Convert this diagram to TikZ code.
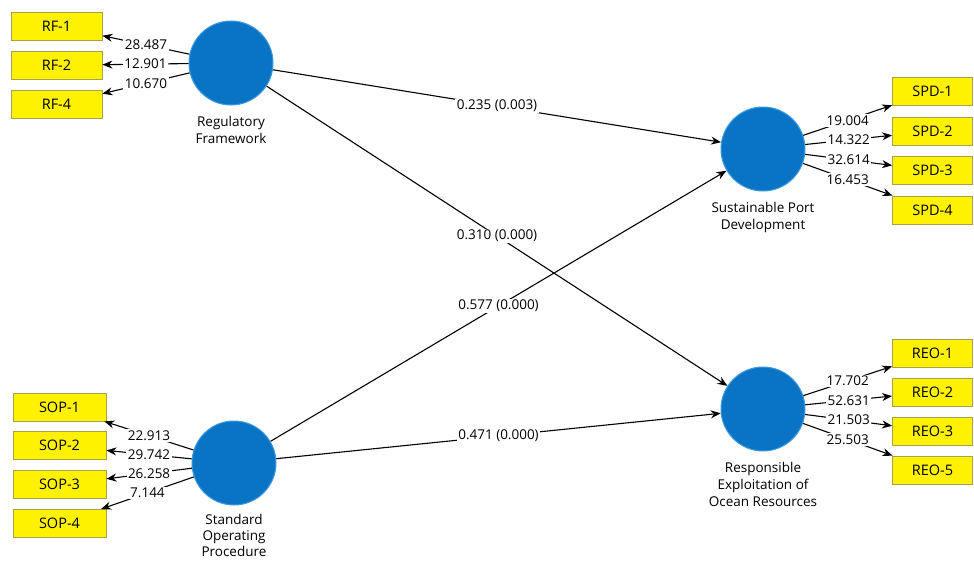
\documentclass[tikz,border=0pt]{standalone}
\usepackage{fontspec}
\setmainfont{Open Sans}
\usetikzlibrary{arrows.meta, positioning, shapes.geometric}

\definecolor{lvblue}{HTML}{0A74C4}
\definecolor{lvedge}{HTML}{3C9BE0}
\definecolor{mvyellow}{HTML}{FFF200}
\definecolor{mvedge}{HTML}{A9A146}

\begin{document}
\begin{tikzpicture}[
        x=1pt, y=-1pt,
        latent/.style={circle, fill=lvblue, draw=lvedge, line width=1pt, minimum size=84pt, inner sep=0pt},
        indicator/.style={rectangle, fill=mvyellow, draw=mvedge, line width=0.8pt, minimum width=91pt, minimum height=28pt, inner sep=0pt, font=\fontsize{14.5}{16}\selectfont},
        caption/.style={align=center, inner sep=1pt, font=\fontsize{13.5}{17}\selectfont},
        weight/.style={fill=white, inner sep=1.5pt, font=\fontsize{13.5}{14}\selectfont},
        line width=1.1pt,
        >={Stealth[length=10pt, width=8pt]}
      ]

      \useasboundingbox (0,0) rectangle (974,562);

      % Latent variables
      \node[latent] (rf) at (231,63) {};
      \node[latent] (sop) at (234,463) {};
      \node[latent] (spd) at (763,149) {};
      \node[latent] (reo) at (763,409) {};

      \node[caption, below=9.5pt of rf] (rf_name) {Regulatory\\Framework};
      \node[caption, below=7pt of sop, font=\fontsize{13.5}{16}\selectfont] (sop_name) {Standard\\Operating\\Procedure};
      \node[caption, below=9.5pt of spd] (spd_name) {Sustainable Port\\Development};
      \node[caption, below=9.5pt of reo] (reo_name) {Responsible\\Exploitation of\\Ocean Resources};

      % Regulatory Framework indicators
      \node[indicator] (rf1) at (56.5,26) {RF-1};
      \node[indicator, below=10.5pt of rf1] (rf2) {RF-2};
      \node[indicator, below=10.5pt of rf2] (rf4) {RF-4};

      % Standard Operating Procedure indicators
      \node[indicator, minimum width=93pt] (sop1) at (59.5,407) {SOP-1};
      \node[indicator, minimum width=93pt, below=10pt of sop1] (sop2) {SOP-2};
      \node[indicator, minimum width=93pt, below=10pt of sop2] (sop3) {SOP-3};
      \node[indicator, minimum width=93pt, below=10pt of sop3] (sop4) {SOP-4};

      % Sustainable Port Development indicators
      \node[indicator, minimum width=80pt] (spd1) at (932.5,91.5) {SPD-1};
      \node[indicator, minimum width=80pt, below=10.7pt of spd1] (spd2) {SPD-2};
      \node[indicator, minimum width=80pt, below=10.7pt of spd2] (spd3) {SPD-3};
      \node[indicator, minimum width=80pt, below=10.7pt of spd3] (spd4) {SPD-4};

      % Responsible Exploitation indicators
      \node[indicator, minimum width=80pt] (reo1) at (932.5,353) {REO-1};
      \node[indicator, minimum width=80pt, below=10.2pt of reo1] (reo2) {REO-2};
      \node[indicator, minimum width=80pt, below=10.2pt of reo2] (reo3) {REO-3};
      \node[indicator, minimum width=80pt, below=10.2pt of reo3] (reo5) {REO-5};

      % Outer loadings
      \draw[->] (rf) -- node[weight] {28.487} (rf1);
      \draw[->] (rf) -- node[weight] {12.901} (rf2);
      \draw[->] (rf) -- node[weight] {10.670} (rf4);
      \draw[->] (sop) -- node[weight] {22.913} (sop1);
      \draw[->] (sop) -- node[weight] {29.742} (sop2);
      \draw[->] (sop) -- node[weight] {26.258} (sop3);
      \draw[->] (sop) -- node[weight] {7.144} (sop4);
      \draw[->] (spd) -- node[weight] {19.004} (spd1);
      \draw[->] (spd) -- node[weight] {14.322} (spd2);
      \draw[->] (spd) -- node[weight] {32.614} (spd3);
      \draw[->] (spd) -- node[weight] {16.453} (spd4);
      \draw[->] (reo) -- node[weight] {17.702} (reo1);
      \draw[->] (reo) -- node[weight] {52.631} (reo2);
      \draw[->] (reo) -- node[weight] {21.503} (reo3);
      \draw[->] (reo) -- node[weight] {25.503} (reo5);

      % Path coefficients
      \draw[->] (rf) -- node[weight] {0.235 (0.003)} (spd);
      \draw[->] (rf) -- node[weight] {0.310 (0.000)} (reo);
      \draw[->] (sop) -- node[weight] {0.577 (0.000)} (spd);
      \draw[->] (sop) -- node[weight] {0.471 (0.000)} (reo);

      \end{tikzpicture}
\end{document}
